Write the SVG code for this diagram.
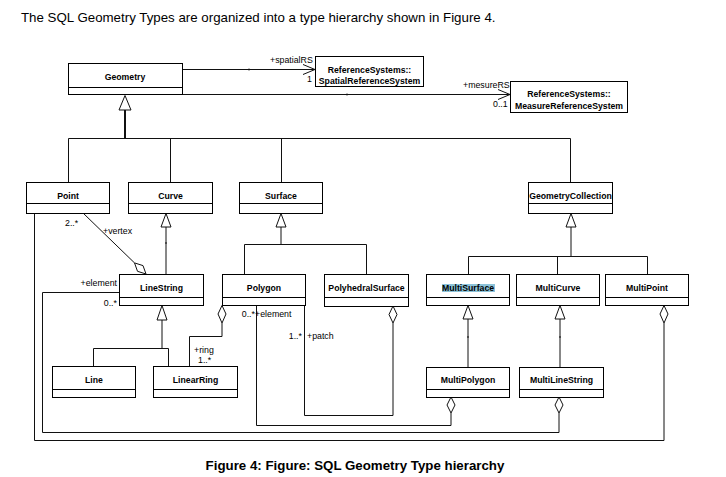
<svg xmlns="http://www.w3.org/2000/svg" width="726" height="477" viewBox="0 0 726 477">
<style>
.box{fill:#fff;stroke:#000;stroke-width:1}
.sep{stroke:#000;stroke-width:1}
.lbl{font-family:"Liberation Sans",Arial,sans-serif;font-weight:bold;font-size:8.7px;text-anchor:middle;fill:#000}
.sm{font-family:"Liberation Sans",Arial,sans-serif;font-size:8.8px;fill:#000}
.end{text-anchor:end}
.ln{fill:none;stroke:#111;stroke-width:1}
.tri{fill:#fff;stroke:#111;stroke-width:1}
.dia{fill:#fff;stroke:#111;stroke-width:1}
.title{font-family:"Liberation Sans",Arial,sans-serif;font-size:13.3px;fill:#000}
.cap{font-family:"Liberation Sans",Arial,sans-serif;font-size:13.3px;font-weight:bold;text-anchor:middle;fill:#000}
</style>
<rect width="726" height="477" fill="#fff"/>
<text class="title" x="21" y="22">The SQL Geometry Types are organized into a type hierarchy shown in Figure 4.</text>

<g id="connectors">
  <!-- associations to reference systems -->
  <line class="ln" x1="182" y1="69.5" x2="315" y2="69.5"/>
  <polyline class="ln" points="303,64.5 315,69.5 303,74.5"/>
  <line class="ln" x1="182" y1="94.5" x2="510" y2="94.5"/>
  <polyline class="ln" points="498,89.5 510,94.5 498,99.5"/>
  <!-- Geometry generalization -->
  <polygon class="tri" points="125,95.5 119,110 131,110"/>
  <line class="ln" x1="125" y1="110" x2="125" y2="138.5" style="stroke-width:2"/>
  <polyline class="ln" points="68.5,182 68.5,138.5 570.5,138.5 570.5,182"/>
  <line class="ln" x1="170.5" y1="138.5" x2="170.5" y2="182"/>
  <line class="ln" x1="281.5" y1="138.5" x2="281.5" y2="182"/>
  <!-- Curve -> LineString -->
  <polygon class="tri" points="166,213.5 161,227 171,227"/>
  <line class="ln" x1="166" y1="227" x2="166" y2="274"/>
  <!-- Surface -> Polygon, PolyhedralSurface -->
  <polygon class="tri" points="281,213.5 276,227 286,227"/>
  <line class="ln" x1="281" y1="227" x2="281" y2="244.5"/>
  <polyline class="ln" points="244.5,274 244.5,244.5 366.5,244.5 366.5,274"/>
  <!-- GeometryCollection -> Multi* -->
  <polygon class="tri" points="571,213.5 566,227 576,227"/>
  <line class="ln" x1="571" y1="227" x2="571" y2="256.5"/>
  <polyline class="ln" points="468.5,274 468.5,256.5 647.5,256.5 647.5,274"/>
  <line class="ln" x1="557.5" y1="256.5" x2="557.5" y2="274"/>
  <!-- LineString -> Line, LinearRing -->
  <polygon class="tri" points="162,305.5 157,320 167,320"/>
  <line class="ln" x1="162" y1="320" x2="162" y2="348.5"/>
  <polyline class="ln" points="93.5,366 93.5,348.5 168.5,348.5 168.5,366"/>
  <!-- MultiSurface -> MultiPolygon -->
  <polygon class="tri" points="468,305.5 463,319 473,319"/>
  <line class="ln" x1="468" y1="319" x2="468" y2="367"/>
  <!-- MultiCurve -> MultiLineString -->
  <polygon class="tri" points="560,305.5 555,319 565,319"/>
  <line class="ln" x1="560" y1="319" x2="560" y2="367"/>
  <!-- Point vertex aggregation in LineString -->
  <line class="ln" x1="83" y1="213" x2="134.5" y2="262.9"/>
  <polygon class="dia" points="146,274 137.5,271.3 134.5,262.9 143,265.6"/>
  <!-- Polygon ring -->
  <polygon class="dia" points="222,305.5 226,314 222,323 218,314"/>
  <polyline class="ln" points="222,323 222,336.5 189.5,336.5 189.5,366"/>
  <!-- LineString element of MultiLineString -->
  <polyline class="ln" points="119,292.5 42.5,292.5 42.5,432.5 559,432.5 559,413"/>
  <polygon class="dia" points="559,397 563,405 559,413 555,405"/>
  <!-- Polygon element of MultiPolygon -->
  <polyline class="ln" points="256.5,305 256.5,425.5 451,425.5 451,413"/>
  <polygon class="dia" points="451,397 455,405 451,413 447,405"/>
  <!-- Polygon patch of PolyhedralSurface -->
  <polyline class="ln" points="304.5,305 304.5,415.5 393,415.5 393,323"/>
  <polygon class="dia" points="393,306 397,314.5 393,323 389,314.5"/>
  <!-- Point element of MultiPoint -->
  <polyline class="ln" points="34.5,213 34.5,440.5 664,440.5 664,323"/>
  <polygon class="dia" points="664,305.5 668,314 664,323 660,314"/>
  <!-- small ticks -->
  <line class="ln" x1="249" y1="68.5" x2="249" y2="70.5"/>
  <line class="ln" x1="347" y1="93.5" x2="347" y2="95.5"/>
  <line class="ln" x1="165" y1="243" x2="167" y2="243"/>
  <line class="ln" x1="467" y1="337" x2="469" y2="337"/>
  <line class="ln" x1="559" y1="337" x2="561" y2="337"/>
  <!-- role labels -->
  <text class="sm" x="270" y="63">+spatialRS</text>
  <text class="sm" x="307" y="82">1</text>
  <text class="sm" x="463" y="88">+mesureRS</text>
  <text class="sm" x="493" y="107">0..1</text>
  <text class="sm" x="65" y="226">2..*</text>
  <text class="sm" x="103" y="234">+vertex</text>
  <text class="sm end" x="117" y="286">+element</text>
  <text class="sm end" x="117" y="306">0..*</text>
  <text class="sm end" x="255" y="317">0..*</text>
  <text class="sm" x="255" y="317">+element</text>
  <text class="sm end" x="302" y="339">1..*</text>
  <text class="sm" x="307" y="339">+patch</text>
  <text class="sm" x="194" y="353">+ring</text>
  <text class="sm" x="198" y="363">1..*</text>
</g>

<g id="Geometry">
  <rect class="box" x="68.5" y="63.5" width="114" height="31"/>
  <line class="sep" x1="68.5" y1="87.5" x2="182.5" y2="87.5"/>
  <text class="lbl" x="125" y="80">Geometry</text>
</g>
<g id="SpatialReferenceSystem">
  <rect class="box" x="315.5" y="56.5" width="108" height="30"/>
  <text class="lbl" x="369.5" y="73">ReferenceSystems::</text>
  <text class="lbl" x="369.5" y="83.5">SpatialReferenceSystem</text>
</g>
<g id="MeasureReferenceSystem">
  <rect class="box" x="510.5" y="81.5" width="117" height="31"/>
  <text class="lbl" x="569" y="97">ReferenceSystems::</text>
  <text class="lbl" x="569" y="109">MeasureReferenceSystem</text>
</g>
<g id="Point">
  <rect class="box" x="26.5" y="182.5" width="83" height="31"/>
  <line class="sep" x1="26.5" y1="203.5" x2="109.5" y2="203.5"/>
  <text class="lbl" x="68" y="198.5">Point</text>
</g>
<g id="Curve">
  <rect class="box" x="128.5" y="182.5" width="84" height="31"/>
  <line class="sep" x1="128.5" y1="203.5" x2="212.5" y2="203.5"/>
  <text class="lbl" x="170.5" y="198.5">Curve</text>
</g>
<g id="Surface">
  <rect class="box" x="239.5" y="182.5" width="83" height="31"/>
  <line class="sep" x1="239.5" y1="203.5" x2="322.5" y2="203.5"/>
  <text class="lbl" x="281" y="198.5">Surface</text>
</g>
<g id="GeometryCollection">
  <rect class="box" x="528.5" y="182.5" width="84" height="31"/>
  <line class="sep" x1="528.5" y1="203.5" x2="612.5" y2="203.5"/>
  <text class="lbl" x="570.5" y="198.5">GeometryCollection</text>
</g>
<g id="LineString">
  <rect class="box" x="119.5" y="274.5" width="84" height="31"/>
  <line class="sep" x1="119.5" y1="297.5" x2="203.5" y2="297.5"/>
  <text class="lbl" x="161.5" y="291">LineString</text>
</g>
<g id="Polygon">
  <rect class="box" x="222.5" y="274.5" width="83" height="31"/>
  <line class="sep" x1="222.5" y1="297.5" x2="305.5" y2="297.5"/>
  <text class="lbl" x="264" y="291">Polygon</text>
</g>
<g id="PolyhedralSurface">
  <rect class="box" x="324.5" y="274.5" width="84" height="32"/>
  <line class="sep" x1="324.5" y1="297.5" x2="408.5" y2="297.5"/>
  <text class="lbl" x="366.5" y="291">PolyhedralSurface</text>
</g>
<g id="MultiSurface">
  <rect class="box" x="426.5" y="274.5" width="83" height="31"/>
  <line class="sep" x1="426.5" y1="297.5" x2="509.5" y2="297.5"/>
  <rect x="442" y="284" width="53" height="8" fill="#8cc3d9"/>
  <text class="lbl" x="468" y="291">MultiSurface</text>
</g>
<g id="MultiCurve">
  <rect class="box" x="516.5" y="274.5" width="83" height="31"/>
  <line class="sep" x1="516.5" y1="297.5" x2="599.5" y2="297.5"/>
  <text class="lbl" x="558" y="291">MultiCurve</text>
</g>
<g id="MultiPoint">
  <rect class="box" x="605.5" y="274.5" width="83" height="31"/>
  <line class="sep" x1="605.5" y1="297.5" x2="688.5" y2="297.5"/>
  <text class="lbl" x="647" y="291">MultiPoint</text>
</g>
<g id="Line">
  <rect class="box" x="52.5" y="366.5" width="83" height="31"/>
  <line class="sep" x1="52.5" y1="389.5" x2="135.5" y2="389.5"/>
  <text class="lbl" x="94" y="383">Line</text>
</g>
<g id="LinearRing">
  <rect class="box" x="153.5" y="366.5" width="84" height="31"/>
  <line class="sep" x1="153.5" y1="389.5" x2="237.5" y2="389.5"/>
  <text class="lbl" x="195.5" y="383">LinearRing</text>
</g>
<g id="MultiPolygon">
  <rect class="box" x="426.5" y="367.5" width="83" height="30"/>
  <line class="sep" x1="426.5" y1="389.5" x2="509.5" y2="389.5"/>
  <text class="lbl" x="468" y="383">MultiPolygon</text>
</g>
<g id="MultiLineString">
  <rect class="box" x="519.5" y="367.5" width="84" height="30"/>
  <line class="sep" x1="519.5" y1="389.5" x2="603.5" y2="389.5"/>
  <text class="lbl" x="561.5" y="383">MultiLineString</text>
</g>

<text class="cap" x="355" y="470">Figure 4: Figure: SQL Geometry Type hierarchy</text>
</svg>
